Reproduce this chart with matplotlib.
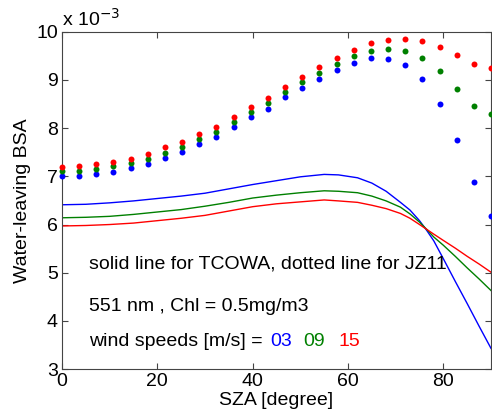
import numpy as np
import matplotlib.pyplot as plt

plt.rcParams['font.family'] = ['Liberation Sans', 'DejaVu Sans']

# JZ11 (dots), 26 SZA values from 0 to 90 deg
sza_dots = np.linspace(0, 90, 26)
jz_03 = [7.01, 7.01, 7.05, 7.10, 7.17, 7.26, 7.39, 7.51, 7.67, 7.82, 8.02, 8.23, 8.40,
         8.64, 8.84, 9.02, 9.21, 9.35, 9.45, 9.44, 9.32, 9.02, 8.51, 7.75, 6.88, 6.18]
jz_09 = [7.12, 7.12, 7.15, 7.21, 7.27, 7.37, 7.49, 7.61, 7.77, 7.92, 8.13, 8.34, 8.52,
         8.76, 8.96, 9.15, 9.34, 9.49, 9.61, 9.65, 9.61, 9.45, 9.18, 8.82, 8.45, 8.29]
jz_15 = [7.20, 7.22, 7.25, 7.30, 7.37, 7.47, 7.60, 7.71, 7.88, 8.02, 8.24, 8.44, 8.62,
         8.86, 9.07, 9.27, 9.45, 9.62, 9.76, 9.83, 9.85, 9.80, 9.68, 9.51, 9.34, 9.24]

# TCOWA (solid lines)
sza_lines = [0, 5, 10, 15, 20, 25, 30, 35, 40, 45, 50, 55, 58, 62, 65, 68, 71, 73, 75,
             76.5, 78, 80, 82.5, 85, 87.5, 90]
tc_03 = [6.41, 6.42, 6.45, 6.49, 6.54, 6.59, 6.65, 6.74, 6.83, 6.91, 6.99, 7.04, 7.03,
         6.97, 6.86, 6.69, 6.46, 6.30, 6.08, 5.88, 5.66, 5.29, 4.82, 4.36, 3.89, 3.43]
tc_09 = [6.14, 6.15, 6.17, 6.21, 6.26, 6.31, 6.38, 6.46, 6.55, 6.61, 6.66, 6.70, 6.69,
         6.66, 6.59, 6.49, 6.36, 6.22, 6.05, 5.90, 5.74, 5.57, 5.34, 5.10, 4.87, 4.63]
tc_15 = [5.97, 5.98, 6.00, 6.03, 6.08, 6.13, 6.19, 6.28, 6.37, 6.43, 6.47, 6.51, 6.49,
         6.46, 6.40, 6.33, 6.23, 6.13, 6.00, 5.90, 5.80, 5.67, 5.51, 5.34, 5.18, 5.01]

colors = {'03': (0, 0, 1), '09': (0, 0.5, 0), '15': (1, 0, 0)}

fig = plt.figure(figsize=(4.92, 4.18), dpi=100)
ax = fig.add_axes([0.126, 0.117, 0.872, 0.807])

for key, dots, line in [('03', jz_03, tc_03), ('09', jz_09, tc_09), ('15', jz_15, tc_15)]:
    ax.plot(sza_dots, dots, 'o', color=colors[key], markersize=4.3,
            markeredgewidth=0, clip_on=False, zorder=3)
    ax.plot(sza_lines, line, '-', color=colors[key], linewidth=1.0)

fs = 14

ax.set_xlim(0, 90)
ax.set_ylim(3, 10)
ax.set_xticks([0, 20, 40, 60, 80])
ax.set_yticks(range(3, 11))
ax.tick_params(direction='in', top=True, right=True, labelsize=fs, length=4,
               color='#444444', pad=3)
for s in ax.spines.values():
    s.set_color('#444444')
    s.set_linewidth(0.8)

ax.set_xlabel('SZA [degree]', fontsize=fs, labelpad=1)
ax.set_ylabel('Water-leaving BSA', fontsize=fs, labelpad=4)
ax.text(0.0, 1.005, r'x 10$^{-3}$', transform=ax.transAxes, fontsize=fs,
        ha='left', va='bottom')

ax.text(5.6, 5.19, 'solid line for TCOWA, dotted line for JZ11', fontsize=fs, va='center')
ax.text(5.6, 4.29, '551 nm , Chl = 0.5mg/m3', fontsize=fs, va='center')
ax.text(5.6, 3.57, 'wind speeds [m/s] =', fontsize=fs, va='center')
ax.text(43.6, 3.57, '03', fontsize=fs, va='center', color=colors['03'])
ax.text(50.7, 3.57, '09', fontsize=fs, va='center', color=colors['09'])
ax.text(58.0, 3.57, '15', fontsize=fs, va='center', color=colors['15'])

fig.savefig('out.png', dpi=100)
